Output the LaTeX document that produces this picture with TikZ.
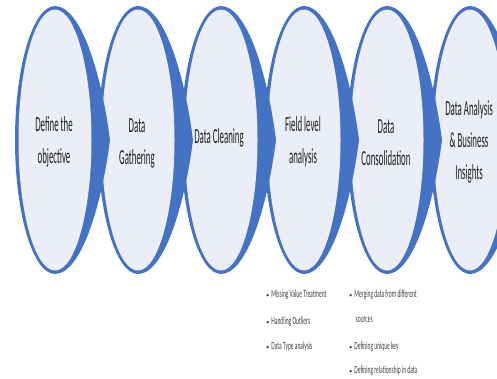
\documentclass[tikz,border=0pt]{standalone}
\usepackage{fontspec}
\setmainfont{Carlito}
\usepackage{graphicx}
\definecolor{cblue}{HTML}{4472C4}
\definecolor{cfill}{HTML}{EBEEF7}
\definecolor{ctext}{HTML}{1E1E1E}
\newcommand{\sq}[1]{\scalebox{0.41}[1]{#1}}
\newcommand{\sqb}[1]{\scalebox{0.5}[1]{#1}}
\newcommand{\bdot}{\scalebox{0.6}{\textbullet}\hspace{2pt}}
\begin{document}
\begin{tikzpicture}[x=1pt,y=-1pt,
  chev/.style={fill=cblue},
  inner/.style={fill=cfill},
  lbl/.style={font=\fontsize{21.5}{32}\selectfont, align=center, text=ctext, inner sep=0pt},
  bul/.style={font=\fontsize{11}{13}\selectfont, anchor=west, text=ctext!85, inner sep=0pt}]
\useasboundingbox[fill=white] (0,0) rectangle (497,378);
\clip (0,0) rectangle (497,378);
\foreach \i in {5,4,...,0}{
 \begin{scope}[shift={(55+83*\i,0)}]
  \fill[chev] (0,6) .. controls (-22,6) and (-40,66) .. (-40,140) .. controls (-40,214) and (-22,274) .. (0,274) .. controls (25,274) and (46,210) .. (55,140) .. controls (46,70) and (25,6) .. (0,6) -- cycle;
  \fill[inner] (0,140) ellipse [x radius=36.5, y radius=130.5];
 \end{scope}
}
\node[lbl] (t1) at (54,142) {\sq{Define the}\\\sq{objective}};
\node[lbl] (t2) at (137,143) {\sq{Data}\\\sq{Gathering}};
\node[lbl] (t3) at (219,138) {\sq{Data Cleaning}};
\node[lbl] (t4) at (303,142) {\sq{Field level}\\\sq{analysis}};
\node[lbl] (t5) at (386,143) {\sq{Data}\\\sq{Consolidation}};
\node[lbl] (t6) at (469,142) {\sq{Data Analysis}\\\sq{\& Business}\\\sq{Insights}};
\node[bul] (b1a) at (266,295) {\bdot\sqb{Missing Value Treatment}};
\node[bul] (b1b) at (266,322) {\bdot\sqb{Handling Outliers}};
\node[bul] (b1c) at (266,347) {\bdot\sqb{Data Type analysis}};
\node[bul] (b2a) at (349,295) {\bdot\sqb{Merging data from different}};
\node[bul] (b2b) at (355.5,320) {\sqb{sources}};
\node[bul] (b2c) at (349,347) {\bdot\sqb{Defining unique key}};
\node[bul] (b2d) at (349,371) {\bdot\sqb{Defining relationship in data}};
\end{tikzpicture}
\end{document}
